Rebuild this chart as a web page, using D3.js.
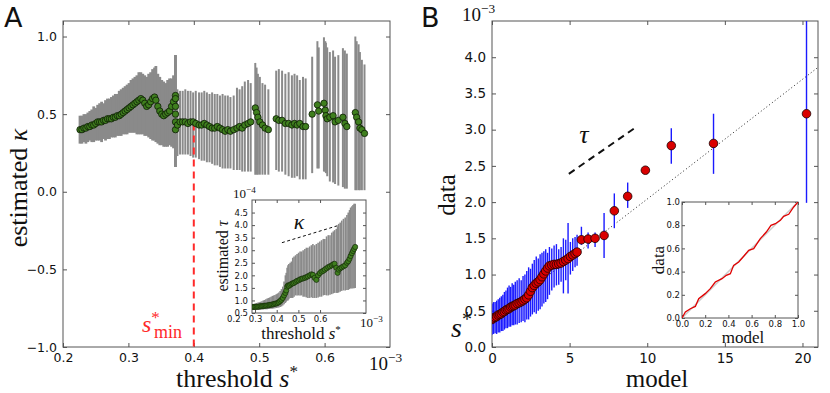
<!DOCTYPE html>
<html>
<head>
<meta charset="utf-8">
<script src="https://cdn.jsdelivr.net/npm/d3@7"></script>
<style>
  body { margin: 0; background: #fff; }
  svg { display: block; }
</style>
</head>
<body>
<svg id="chart" width="830" height="393"></svg>
<script>
// ---- panel A: estimated kappa vs threshold s* (units of 1e-3) ----
const thrA = [
  0.226,0.229,0.232,0.235,0.238,0.241,0.244,0.247,0.250,0.253,0.256,0.259,0.262,0.265,0.268,0.271,
  0.274,0.277,0.280,0.283,0.286,0.289,0.292,0.295,0.298,0.301,0.304,0.307,0.310,0.313,0.316,0.319,
  0.322,0.325,0.328,0.331,0.334,0.337,0.340,0.342,0.345,0.348,0.351,0.354,0.357,0.360,0.363,0.366,
  0.369,0.372,0.372,0.372,0.372,0.372,0.372,
  0.375,0.379,0.383,0.387,0.391,0.395,0.399,0.403,0.408,0.412,0.416,0.420,0.424,0.428,0.432,0.436,
  0.440,0.444,0.448,0.452,0.456,0.461,0.466,0.470,0.474,0.478,0.483,0.487,0.494,0.496,0.498,0.501,
  0.505,0.509,0.514,0.526,0.530,0.535,0.540,0.545,0.550,0.554,0.558,0.562,0.567,0.571,0.581,0.589,
  0.591,0.599,0.601,0.602,0.604,0.608,0.613,0.616,0.621,0.628,0.631,0.634,0.647,0.649,0.652,0.654,
  0.657,0.661
];
const kappaA = [
  0.40,0.40,0.41,0.41,0.42,0.42,0.43,0.43,0.44,0.45,0.45,0.45,0.46,0.46,0.47,0.47,
  0.47,0.48,0.48,0.49,0.49,0.50,0.51,0.52,0.53,0.54,0.55,0.56,0.57,0.58,0.59,0.60,
  0.59,0.57,0.55,0.56,0.58,0.60,0.61,0.59,0.55,0.52,0.50,0.49,0.50,0.51,0.52,0.55,
  0.58,0.62,0.60,0.55,0.50,0.45,0.40,
  0.43,0.45,0.45,0.45,0.44,0.45,0.45,0.44,0.43,0.43,0.44,0.43,0.42,0.41,0.41,0.42,
  0.41,0.40,0.39,0.40,0.39,0.40,0.41,0.42,0.41,0.43,0.44,0.45,0.54,0.51,0.48,0.45,
  0.43,0.41,0.40,0.47,0.46,0.46,0.44,0.44,0.43,0.44,0.43,0.44,0.42,0.42,0.50,0.56,
  0.52,0.57,0.525,0.49,0.47,0.48,0.49,0.45,0.46,0.48,0.44,0.42,0.51,0.48,0.45,0.41,
  0.40,0.376
];
const kappaLo = [
  0.31,0.31,0.32,0.31,0.32,0.33,0.32,0.32,0.33,0.33,0.33,0.32,0.34,0.33,0.34,0.34,
  0.35,0.35,0.35,0.36,0.36,0.36,0.37,0.37,0.37,0.38,0.38,0.38,0.38,0.37,0.37,0.37,
  0.37,0.36,0.36,0.35,0.34,0.33,0.33,0.32,0.31,0.30,0.30,0.29,0.29,0.29,0.30,0.29,
  0.28,0.16,0.16,0.16,0.16,0.16,0.16,
  0.23,0.24,0.24,0.24,0.24,0.23,0.22,0.22,0.21,0.20,0.20,0.19,0.19,0.18,0.17,0.17,
  0.16,0.15,0.15,0.15,0.15,0.14,0.14,0.14,0.13,0.13,0.13,0.13,0.11,0.11,0.11,0.11,
  0.11,0.11,0.11,0.14,0.13,0.13,0.11,0.10,0.09,0.09,0.10,0.08,0.08,0.08,0.12,0.15,
  0.15,0.13,0.13,0.12,0.10,0.066,0.06,0.05,0.04,0.03,0.02,0.02,0.01,0.01,0.01,0.01,
  0.01,0.01
];
const kappaHi = [
  0.49,0.49,0.50,0.50,0.51,0.52,0.53,0.55,0.54,0.56,0.57,0.58,0.57,0.59,0.60,0.60,
  0.61,0.62,0.63,0.63,0.65,0.66,0.67,0.68,0.69,0.70,0.72,0.73,0.74,0.75,0.77,0.77,
  0.76,0.75,0.74,0.76,0.77,0.79,0.80,0.81,0.76,0.74,0.72,0.71,0.70,0.72,0.73,0.73,
  0.75,0.88,0.88,0.88,0.88,0.88,0.88,
  0.66,0.65,0.65,0.66,0.65,0.65,0.64,0.65,0.64,0.64,0.65,0.64,0.63,0.64,0.63,0.63,
  0.62,0.63,0.62,0.62,0.61,0.62,0.67,0.66,0.68,0.71,0.72,0.70,0.83,0.80,0.76,0.74,
  0.70,0.69,0.66,0.78,0.79,0.78,0.76,0.77,0.75,0.76,0.75,0.72,0.74,0.73,0.87,0.97,
  0.93,0.995,0.97,0.96,0.93,0.90,0.91,0.87,0.88,0.925,0.91,0.89,1.0,0.97,0.95,0.90,
  0.85,0.82
];
const sMin = 0.4, sMinKappa = 0.44;

// inset A: estimated tau (units of 1e-4) vs threshold
const thrInset = [
  0.290,0.296,0.302,0.308,0.314,0.320,0.326,0.332,0.338,0.344,0.350,0.356,0.362,0.368,0.374,0.380,
  0.386,0.392,0.398,0.404,0.410,0.416,0.422,0.428,0.434,0.440,0.444,0.448,0.452,0.456,0.462,0.468,
  0.474,0.480,0.487,0.494,0.501,0.508,0.515,0.522,0.530,0.537,0.544,0.552,0.560,0.567,0.575,0.583,
  0.591,0.599,0.607,0.615,0.622,0.630,0.638,0.646,0.654,0.661,0.667,0.675,0.681,0.686,0.693,0.700,
  0.708,0.716,0.724,0.730,0.736,0.741,0.747,0.752,0.757,0.762
];
const tauInset = [
  0.74,0.74,0.75,0.75,0.75,0.76,0.77,0.77,0.78,0.79,0.79,0.80,0.81,0.82,0.83,0.84,
  0.85,0.87,0.88,0.90,0.93,0.98,1.03,1.10,1.20,1.30,1.40,1.55,1.60,1.58,1.62,1.66,
  1.68,1.70,1.74,1.78,1.80,1.84,1.86,1.88,1.90,1.93,1.96,2.00,2.04,2.02,1.90,1.82,
  2.00,2.09,2.15,2.18,2.23,2.28,2.33,2.36,2.40,2.44,2.46,2.30,2.10,2.23,2.28,2.32,
  2.36,2.40,2.50,2.56,2.66,2.77,2.88,2.97,3.05,3.13
];
const tauLo = [
  0.62,0.62,0.62,0.63,0.62,0.63,0.63,0.64,0.64,0.65,0.65,0.65,0.66,0.66,0.67,0.67,
  0.68,0.69,0.70,0.71,0.72,0.74,0.76,0.80,0.85,0.90,0.95,1.00,1.00,1.05,1.10,1.10,
  1.10,1.15,1.20,1.20,1.20,1.20,1.20,1.15,1.15,1.12,1.10,1.10,1.12,1.10,1.10,1.10,
  1.12,1.15,1.15,1.20,1.22,1.20,1.20,1.23,1.25,1.28,1.30,1.30,1.30,1.32,1.35,1.38,
  1.40,1.40,1.42,1.42,1.45,1.48,1.48,1.49,1.49,1.50
];
const tauHi = [
  0.86,0.87,0.88,0.90,0.92,0.93,0.95,0.97,1.00,1.02,1.05,1.08,1.10,1.12,1.15,1.18,
  1.20,1.22,1.25,1.28,1.32,1.38,1.45,1.55,1.75,2.00,2.10,2.30,2.40,2.45,2.50,2.55,
  2.70,2.75,2.80,2.85,2.90,2.95,2.95,3.00,3.05,3.10,3.10,3.15,3.20,3.25,3.20,3.25,
  3.30,3.35,3.40,3.45,3.45,3.55,3.60,3.60,3.70,3.75,3.80,3.85,3.95,4.05,4.10,4.18,
  4.25,4.30,4.40,4.50,4.60,4.70,4.75,4.80,4.85,4.85
];
const kappaGuideThr = [0.424, 0.686], kappaGuideTau = [3.30, 3.99];

// ---- panel B: data vs model quantiles (data in units of 1e-3) ----
const modelB = [
  0.00,0.10,0.20,0.30,0.40,0.50,0.60,0.70,0.80,0.90,1.00,1.10,1.20,1.30,1.40,1.50,
  1.62,1.75,1.88,2.00,2.12,2.24,2.36,2.48,2.60,2.72,2.85,2.98,3.10,3.22,3.34,3.46,
  3.58,3.70,3.85,4.00,4.15,4.30,4.45,4.60,4.75,4.90,5.05,5.20,5.35,5.48,
  5.76,6.19,6.64,7.22,7.88,8.74,9.88,11.55,14.27,20.26
];
const dataB = [
  0.38,0.40,0.41,0.42,0.44,0.45,0.46,0.48,0.49,0.51,0.52,0.53,0.55,0.56,0.57,0.58,
  0.60,0.61,0.625,0.64,0.66,0.68,0.72,0.77,0.82,0.85,0.88,0.90,0.93,0.97,1.01,1.05,
  1.09,1.12,1.13,1.14,1.14,1.15,1.16,1.18,1.20,1.22,1.25,1.27,1.29,1.31,
  1.48,1.49,1.50,1.54,1.88,2.08,2.44,2.78,2.81,3.22
];
const dataLo = [
  0.17,0.18,0.19,0.18,0.20,0.20,0.22,0.22,0.24,0.26,0.26,0.28,0.28,0.30,0.30,0.31,
  0.31,0.33,0.34,0.36,0.34,0.38,0.38,0.42,0.45,0.48,0.46,0.50,0.52,0.56,0.60,0.62,
  0.66,0.72,0.78,0.82,0.85,0.86,0.90,0.74,0.92,0.74,1.00,1.05,1.10,1.12,
  1.41,1.36,1.38,1.23,1.64,1.92,2.42,2.53,2.39,1.99
];
const dataHi = [
  0.60,0.62,0.62,0.64,0.66,0.68,0.70,0.72,0.76,0.78,0.82,0.85,0.83,0.88,0.86,0.90,
  0.92,0.95,0.92,0.98,1.00,1.05,1.10,1.08,1.15,1.20,1.25,1.22,1.28,1.30,1.32,1.35,
  1.30,1.38,1.36,1.40,1.42,1.35,1.38,1.50,1.48,1.71,1.45,1.50,1.52,1.55,
  1.66,1.58,1.58,1.85,2.12,2.27,2.46,3.02,3.22,5.00
];
const refModel = [0, 21], refData = [0.39, 3.86];
const tauGuideModel = [4.95, 9.25], tauGuideData = [2.39, 3.03];

// inset B: CDF comparison
const cdfModel = [0,0.029,0.072,0.115,0.144,0.20,0.244,0.287,0.345,0.382,0.417,0.445,0.489,0.532,
  0.575,0.618,0.675,0.727,0.767,0.805,0.848,0.876,0.920,0.963,1.0];
const cdfData = [0,0.052,0.08,0.10,0.167,0.21,0.253,0.31,0.339,0.368,0.382,0.454,0.483,0.532,
  0.583,0.598,0.684,0.741,0.799,0.813,0.842,0.876,0.894,0.957,1.0];

// tick values
const ticksAx = [0.2, 0.3, 0.4, 0.5, 0.6];
const ticksAy = [-1.0, -0.5, 0.0, 0.5, 1.0];
const ticksAix = [0.2, 0.3, 0.4, 0.5, 0.6];
const ticksAiy = [0.5, 1.0, 1.5, 2.0, 2.5, 3.0, 3.5, 4.0, 4.5];
const ticksBx = [0, 5, 10, 15, 20];
const ticksBy = [0.0, 0.5, 1.0, 1.5, 2.0, 2.5, 3.0, 3.5, 4.0];
const ticksBi = [0.0, 0.2, 0.4, 0.6, 0.8, 1.0];

const svg = d3.select("#chart");
const SERIF = '"Liberation Serif", "Times New Roman", serif';
const SANS = '"DejaVu Sans", sans-serif';

const xA = d3.scaleLinear().domain([0.2, 0.7]).range([63, 390]);
const yA = d3.scaleLinear().domain([-1, 1.1]).range([347, 21]);
const xAi = d3.scaleLinear().domain([0.286, 0.812]).range([252, 366]);
const yAi = d3.scaleLinear().domain([0.5, 5.0]).range([313, 200]);
const xB = d3.scaleLinear().domain([0, 21]).range([492, 818]);
const yB = d3.scaleLinear().domain([0, 4.5]).range([347, 21]);
const xBi = d3.scaleLinear().domain([0, 1]).range([682, 798]);
const yBi = d3.scaleLinear().domain([0, 1]).range([318, 202]);

// box with inward ticks on all four sides, labels bottom and left
function frame(x, y, xt, yt, o) {
  const [l, r] = x.range(), [b, t] = y.range();
  const g = svg.append("g");
  g.append("rect").attr("x", l).attr("y", t).attr("width", r - l).attr("height", b - t)
    .attr("fill", "#fff");
  const inside = (s, v) => { const p = s(v); const [a, c] = d3.extent(s.range()); return p >= a - 0.5 && p <= c + 0.5; };
  const style = sel => {
    sel.select(".domain").remove();
    sel.selectAll("line").attr("stroke", "#555");
    sel.selectAll("text").attr("font-family", SANS).attr("font-size", o.fs).attr("fill", "#111");
  };
  const ax = [
    [d3.axisBottom(x), b, 0, xt, o.xf, o.padX, x],
    [d3.axisTop(x), t, 0, xt, "", 0, x],
    [d3.axisLeft(y), l, 1, yt, o.yf, o.padY, y],
    [d3.axisRight(y), r, 1, yt, "", 0, y]
  ];
  ax.forEach(([a, pos, vert, tv, fmt, pad, s]) => {
    const sel = g.append("g")
      .attr("transform", vert ? `translate(${pos},0)` : `translate(0,${pos})`)
      .call(a.tickValues(tv).tickSize(-o.tick).tickSizeOuter(0).tickPadding(pad)
        .tickFormat(fmt === "" ? () => "" : d3.format(fmt)));
    style(sel);
    sel.selectAll(".tick").filter(d => !inside(s, d)).select("line").remove();
  });
  g.append("rect").attr("x", l).attr("y", t).attr("width", r - l).attr("height", b - t)
    .attr("fill", "none").attr("stroke", "#555").attr("stroke-width", 1);
  return g;
}

function clipFor(id, x, y) {
  const [l, r] = x.range(), [b, t] = y.range();
  svg.append("clipPath").attr("id", id).append("rect")
    .attr("x", l).attr("y", t).attr("width", r - l).attr("height", b - t);
  return svg.append("g").attr("clip-path", `url(#${id})`);
}

function power(sel, x, y, exp, fs) {
  const t = sel.append("text").attr("x", x).attr("y", y)
    .attr("font-family", SERIF).attr("font-size", fs).attr("fill", "#111");
  t.append("tspan").text("10");
  t.append("tspan").attr("dy", -fs * 0.42).attr("font-size", fs * 0.7).text(exp);
}

// ===== Panel A =====
frame(xA, yA, ticksAx, ticksAy, { fs: 12.5, tick: 4, padX: 6, padY: 6, xf: ".1f", yf: ".1f" });
const gA = clipFor("clipA", xA, yA);
const idxA = d3.range(thrA.length);

// dense part (before the first gap) drawn wider so the bars merge into a band
gA.selectAll(".barA").data(idxA).join("line")
  .attr("x1", i => xA(thrA[i])).attr("x2", i => xA(thrA[i]))
  .attr("y1", i => yA(kappaLo[i])).attr("y2", i => yA(kappaHi[i]))
  .attr("stroke", "#8a8a8a").attr("stroke-width", i => thrA[i] < 0.371 ? 2.8 : 2);

gA.append("line")
  .attr("x1", xA(sMin)).attr("x2", xA(sMin))
  .attr("y1", yA(sMinKappa)).attr("y2", yA(-1))
  .attr("stroke", "#ff2a2a").attr("stroke-width", 2).attr("stroke-dasharray", "7,5");

gA.selectAll(".ptA").data(idxA).join("circle")
  .attr("cx", i => xA(thrA[i])).attr("cy", i => yA(kappaA[i])).attr("r", 3.2)
  .attr("fill", "#3f7f1e").attr("stroke", "#0d1c05").attr("stroke-width", 0.8);

svg.append("text").attr("x", 4).attr("y", 27)
  .attr("font-family", SANS).attr("font-size", 27).attr("fill", "#111").text("A");

svg.append("text")
  .attr("transform", "translate(27,188) rotate(-90)")
  .attr("text-anchor", "middle").attr("font-family", SERIF).attr("font-size", 26).attr("fill", "#111")
  .call(t => { t.append("tspan").text("estimated "); t.append("tspan").attr("font-style", "italic").text("κ"); });

svg.append("text").attr("x", 237).attr("y", 387)
  .attr("text-anchor", "middle").attr("font-family", SERIF).attr("font-size", 26).attr("fill", "#111")
  .call(t => {
    t.append("tspan").text("threshold ");
    t.append("tspan").attr("font-style", "italic").text("s");
    t.append("tspan").attr("dy", -10).attr("font-size", 17).text("*");
  });
power(svg, 369, 370, "−3", 19);

// s*_min label
svg.append("text").attr("x", 142).attr("y", 332)
  .attr("font-family", SERIF).attr("font-size", 24).attr("fill", "#ff2a2a")
  .call(t => {
    t.append("tspan").attr("font-style", "italic").text("s");
    t.append("tspan").attr("dy", -9).attr("font-size", 17).text("*");
    t.append("tspan").attr("x", 154).attr("y", 338).attr("font-size", 18).text("min");
  });

// ===== Inset A =====
frame(xAi, yAi, ticksAix, ticksAiy, { fs: 8.5, tick: 3, padX: 3, padY: 4, xf: ".1f", yf: ".1f" });
const gAi = clipFor("clipAi", xAi, yAi);
const idxAi = d3.range(thrInset.length);
gAi.selectAll(".barAi").data(idxAi).join("line")
  .attr("x1", i => xAi(thrInset[i])).attr("x2", i => xAi(thrInset[i]))
  .attr("y1", i => yAi(tauLo[i])).attr("y2", i => yAi(tauHi[i]))
  .attr("stroke", "#8a8a8a").attr("stroke-width", 1.6);
gAi.selectAll(".ptAi").data(idxAi).join("circle")
  .attr("cx", i => xAi(thrInset[i])).attr("cy", i => yAi(tauInset[i])).attr("r", 2.6)
  .attr("fill", "#3f7f1e").attr("stroke", "#0d1c05").attr("stroke-width", 0.6);
gAi.append("line")
  .attr("x1", xAi(kappaGuideThr[0])).attr("y1", yAi(kappaGuideTau[0]))
  .attr("x2", xAi(kappaGuideThr[1])).attr("y2", yAi(kappaGuideTau[1]))
  .attr("stroke", "#111").attr("stroke-width", 1).attr("stroke-dasharray", "3,2.5");
svg.append("text").attr("x", 299).attr("y", 229).attr("text-anchor", "middle")
  .attr("font-family", SERIF).attr("font-style", "italic").attr("font-size", 22).attr("fill", "#111").text("κ");

svg.append("text")
  .attr("transform", "translate(228,256) rotate(-90)")
  .attr("text-anchor", "middle").attr("font-family", SERIF).attr("font-size", 16).attr("fill", "#111")
  .call(t => { t.append("tspan").text("estimated "); t.append("tspan").attr("font-style", "italic").text("τ"); });
svg.append("text").attr("x", 301).attr("y", 339)
  .attr("text-anchor", "middle").attr("font-family", SERIF).attr("font-size", 17).attr("fill", "#111")
  .call(t => {
    t.append("tspan").text("threshold ");
    t.append("tspan").attr("font-style", "italic").text("s");
    t.append("tspan").attr("dy", -6).attr("font-size", 11).text("*");
  });
power(svg, 233, 198, "−4", 13);
power(svg, 360, 327, "−3", 13);

// ===== Panel B =====
frame(xB, yB, ticksBx, ticksBy, { fs: 13.5, tick: 4, padX: 6, padY: 6, xf: "d", yf: ".1f" });
const gB = clipFor("clipB", xB, yB);
const idxB = d3.range(modelB.length);

gB.append("line")
  .attr("x1", xB(refModel[0])).attr("y1", yB(refData[0]))
  .attr("x2", xB(refModel[1])).attr("y2", yB(refData[1]))
  .attr("stroke", "#222").attr("stroke-width", 1).attr("stroke-dasharray", "1,2.5");

gB.selectAll(".barB").data(idxB).join("line")
  .attr("x1", i => xB(modelB[i])).attr("x2", i => xB(modelB[i]))
  .attr("y1", i => yB(dataLo[i])).attr("y2", i => yB(dataHi[i]))
  .attr("stroke", "#1a1aff").attr("stroke-width", 1.4);

gB.selectAll(".ptB").data(idxB).join("circle")
  .attr("cx", i => xB(modelB[i])).attr("cy", i => yB(dataB[i])).attr("r", 4.3)
  .attr("fill", "#d90000").attr("stroke", "#1a0000").attr("stroke-width", 0.8);

gB.append("line")
  .attr("x1", xB(tauGuideModel[0])).attr("y1", yB(tauGuideData[0]))
  .attr("x2", xB(tauGuideModel[1])).attr("y2", yB(tauGuideData[1]))
  .attr("stroke", "#111").attr("stroke-width", 2).attr("stroke-dasharray", "7,5");
svg.append("text").attr("x", 584).attr("y", 143).attr("text-anchor", "middle")
  .attr("font-family", SERIF).attr("font-style", "italic").attr("font-size", 26).attr("fill", "#111").text("τ");

svg.append("text").attr("x", 421).attr("y", 27)
  .attr("font-family", SANS).attr("font-size", 27).attr("fill", "#111").text("B");
svg.append("text")
  .attr("transform", "translate(455,195) rotate(-90)")
  .attr("text-anchor", "middle").attr("font-family", SERIF).attr("font-size", 25).attr("fill", "#111").text("data");
svg.append("text").attr("x", 657).attr("y", 387)
  .attr("text-anchor", "middle").attr("font-family", SERIF).attr("font-size", 25).attr("fill", "#111").text("model");
svg.append("text").attr("x", 451).attr("y", 337)
  .attr("font-family", SERIF).attr("font-size", 28).attr("fill", "#111")
  .call(t => {
    t.append("tspan").attr("font-style", "italic").text("s");
    t.append("tspan").attr("dy", -11).attr("font-size", 20).text("*");
  });
power(svg, 462, 21, "−3", 19);

// ===== Inset B =====
frame(xBi, yBi, ticksBi, ticksBi, { fs: 8.5, tick: 3, padX: 3, padY: 2, xf: ".1f", yf: ".1f" });
const gBi = clipFor("clipBi", xBi, yBi);
gBi.append("line")
  .attr("x1", xBi(0)).attr("y1", yBi(0)).attr("x2", xBi(1)).attr("y2", yBi(1))
  .attr("stroke", "#ccc").attr("stroke-width", 1.5);
gBi.append("path")
  .datum(d3.range(cdfModel.length))
  .attr("d", d3.line().x(i => xBi(cdfModel[i])).y(i => yBi(cdfData[i])))
  .attr("fill", "none").attr("stroke", "#e00000").attr("stroke-width", 1.3);
svg.append("text")
  .attr("transform", "translate(664,260) rotate(-90)")
  .attr("text-anchor", "middle").attr("font-family", SERIF).attr("font-size", 17).attr("fill", "#111").text("data");
svg.append("text").attr("x", 743).attr("y", 343)
  .attr("text-anchor", "middle").attr("font-family", SERIF).attr("font-size", 17).attr("fill", "#111").text("model");
</script>
</body>
</html>
